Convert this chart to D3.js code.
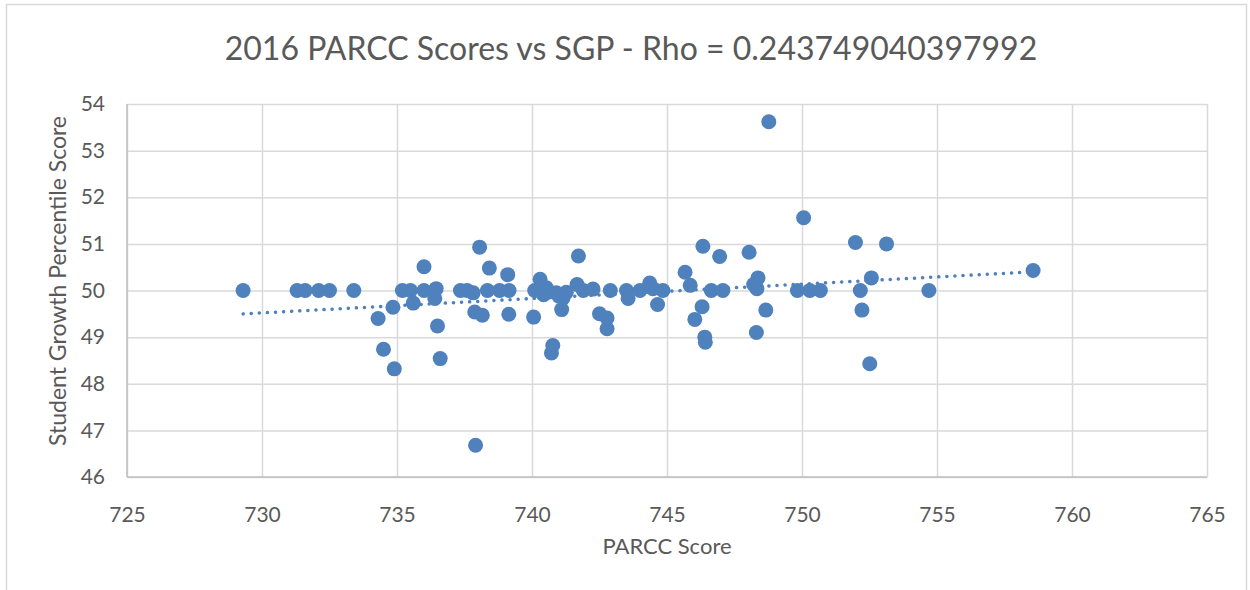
<!DOCTYPE html>
<html>
<head>
<meta charset="utf-8">
<script src="https://cdn.jsdelivr.net/npm/d3@7"></script>
<style>
  body { margin: 0; background: #fff; }
  text { font-family: Lato, "Open Sans", sans-serif; fill: #595959; }
</style>
</head>
<body>
<div id="chart"></div>
<script>
// PARCC score (x) and student growth percentile (y) per school
var parcc = [729.3, 731.3, 731.6, 732.1, 732.5, 733.4, 734.3, 734.5, 734.85, 734.9,
  735.2, 735.5, 735.6, 736.0, 736.0, 736.45, 736.4, 736.5, 736.6, 737.35,
  737.6, 737.82, 737.88, 738.16, 738.42, 738.35, 738.8, 739.1, 739.15, 739.14,
  740.06, 740.1, 740.3, 740.43, 740.53, 740.77, 740.72, 740.9, 741.1, 741.15,
  741.27, 741.67, 741.9, 742.26, 742.5, 742.78, 742.78, 742.9, 743.5, 743.56,
  744.0, 744.36, 744.48, 744.65, 744.85, 745.67, 745.86, 746.3, 746.03, 746.4,
  746.42, 746.64, 746.33, 746.95, 748.04, 747.07, 748.37, 748.21, 748.33, 748.66,
  748.31, 749.83, 750.29, 750.68, 751.98, 753.13, 752.57, 752.16, 752.22, 752.51,
  754.7, 758.56, 748.77, 750.06, 738.06, 741.72, 737.91, 740.6, 741.0];
var sgp = [50.0, 50.0, 50.0, 50.0, 50.0, 50.0, 49.4, 48.74, 49.64, 48.32,
  50.0, 50.0, 49.73, 50.51, 50.0, 50.04, 49.83, 49.24, 48.54, 50.0,
  50.0, 49.95, 49.54, 49.47, 50.48, 50.0, 50.0, 50.34, 50.0, 49.49,
  49.43, 50.0, 50.24, 49.91, 50.06, 48.82, 48.66, 49.95, 49.59, 49.84,
  49.96, 50.13, 50.0, 50.03, 49.5, 49.41, 49.18, 50.0, 50.0, 49.83,
  50.0, 50.16, 50.04, 49.7, 50.0, 50.39, 50.11, 49.65, 49.38, 49.0,
  48.89, 50.0, 50.95, 50.73, 50.82, 50.0, 50.27, 50.13, 50.04, 49.58,
  49.1, 50.0, 50.0, 50.0, 51.03, 51.0, 50.27, 50.0, 49.58, 48.43,
  50.0, 50.43, 53.62, 51.56, 50.93, 50.74, 46.68, 49.97, 49.88];

var xTicks = [725, 730, 735, 740, 745, 750, 755, 760, 765];
var yTicks = [46, 47, 48, 49, 50, 51, 52, 53, 54];
var titleText = "2016 PARCC Scores vs SGP - Rho = 0.243749040397992";

var W = 1250, H = 590;
var margin = {top: 104, right: 43, bottom: 113, left: 127},
    width = W - margin.left - margin.right,
    height = H - margin.top - margin.bottom;

var svg = d3.select("#chart")
  .append("svg")
    .attr("width", W)
    .attr("height", H);

// chart border
svg.append("rect")
  .attr("x", 6.5).attr("y", 4.5)
  .attr("width", 1240).attr("height", 600)
  .attr("fill", "none")
  .attr("stroke", "#d9d9d9")
  .attr("stroke-width", 1.5);

svg.append("text")
  .text(titleText)
  .attr("x", 631).attr("y", 60)
  .attr("text-anchor", "middle")
  .style("font-size", "32px")
  .style("font-weight", 400);

var g = svg.append("g")
  .attr("transform", "translate(" + margin.left + "," + margin.top + ")");

var x = d3.scaleLinear().domain([725, 765]).range([0, width]);
var y = d3.scaleLinear().domain([46, 54]).range([height, 0]);

// gridlines
g.append("g")
  .call(d3.axisBottom(x).tickValues(xTicks).tickSize(-height).tickFormat(""))
  .attr("transform", "translate(0," + height + ")")
  .call(function(a) { a.select(".domain").remove(); })
  .selectAll("line").attr("stroke", "#d9d9d9").attr("stroke-width", 1.5);

g.append("g")
  .call(d3.axisLeft(y).tickValues(yTicks).tickSize(-width).tickFormat(""))
  .call(function(a) { a.select(".domain").remove(); })
  .selectAll("line").attr("stroke", "#d9d9d9").attr("stroke-width", 1.5);

// axis lines
g.append("line").attr("x1", 0).attr("x2", width).attr("y1", height).attr("y2", height)
  .attr("stroke", "#bfbfbf").attr("stroke-width", 1.5);
g.append("line").attr("x1", 0).attr("x2", 0).attr("y1", 0).attr("y2", height)
  .attr("stroke", "#bfbfbf").attr("stroke-width", 1.5);

// tick labels
var xAxis = g.append("g")
  .attr("transform", "translate(0," + height + ")")
  .call(d3.axisBottom(x).tickValues(xTicks).tickSize(0).tickPadding(30).tickFormat(d3.format("d")));
xAxis.select(".domain").remove();
xAxis.selectAll("text").style("font-size", "21px").attr("fill", "#595959");

var yAxis = g.append("g")
  .call(d3.axisLeft(y).tickValues(yTicks).tickSize(0).tickPadding(22).tickFormat(d3.format("d")));
yAxis.select(".domain").remove();
yAxis.selectAll("text").style("font-size", "21px").attr("fill", "#595959");

// axis titles
svg.append("text")
  .text("PARCC Score")
  .attr("x", margin.left + width / 2).attr("y", 554)
  .attr("text-anchor", "middle")
  .style("font-size", "22px");

svg.append("text")
  .text("Student Growth Percentile Score")
  .attr("text-anchor", "middle")
  .attr("transform", "translate(66,281) rotate(-90)")
  .style("font-size", "23px");

var data = parcc.map(function(d, i) { return {x: d, y: sgp[i]}; });

// least squares trendline
var mx = d3.mean(parcc), my = d3.mean(sgp);
var sxy = d3.sum(data, function(d) { return (d.x - mx) * (d.y - my); });
var sxx = d3.sum(data, function(d) { return (d.x - mx) * (d.x - mx); });
var slope = sxy / sxx, icpt = my - slope * mx;
var ext = d3.extent(parcc);

// points
g.append("g")
  .selectAll("circle")
  .data(data)
  .enter()
  .append("circle")
    .attr("cx", function(d) { return x(d.x); })
    .attr("cy", function(d) { return y(d.y); })
    .attr("r", 7.5)
    .attr("fill", "#4f81bd");

g.append("path")
  .datum(ext)
  .attr("d", d3.line()
    .x(function(d) { return x(d); })
    .y(function(d) { return y(icpt + slope * d); }))
  .attr("fill", "none")
  .attr("stroke", "#4f81bd")
  .attr("stroke-width", 3.5)
  .attr("stroke-linecap", "round")
  .attr("stroke-dasharray", "0.1 8");
</script>
</body>
</html>
